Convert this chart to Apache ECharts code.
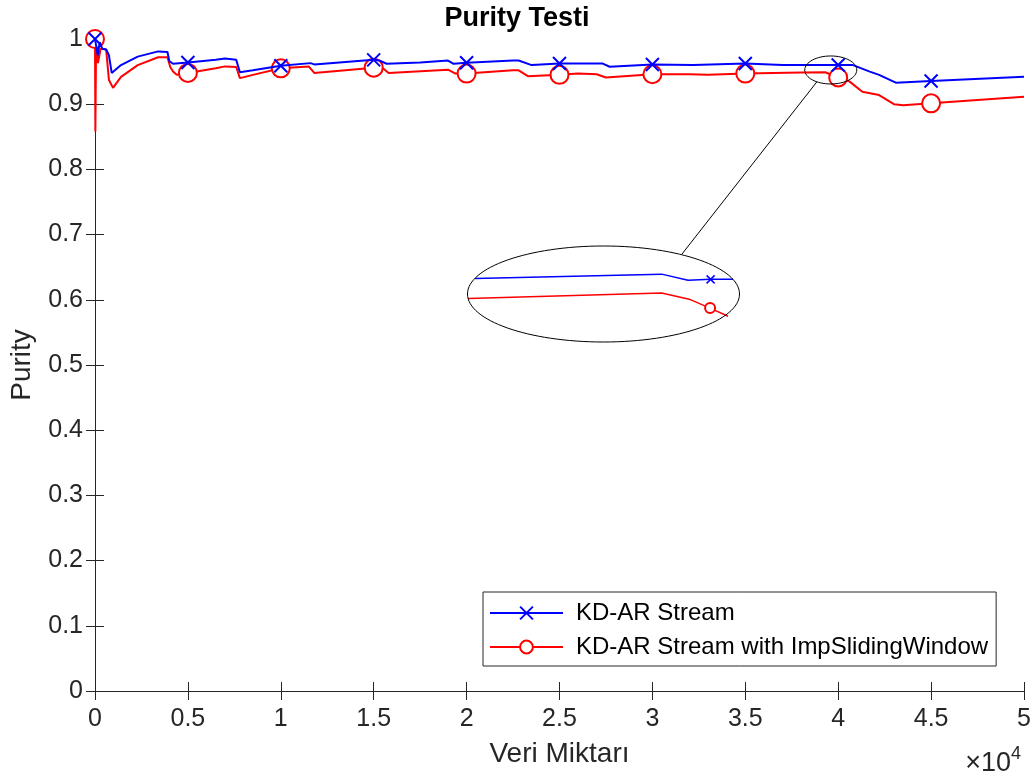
<!DOCTYPE html>
<html><head><meta charset="utf-8">
<script src="https://cdn.jsdelivr.net/npm/echarts@6/dist/echarts.min.js"></script>
<style>html,body{margin:0;padding:0;background:#fff}#c{width:1034px;height:778px}</style>
</head><body><div id="c"></div>
<script>
// ---- data ----
const xTickLabels = ['0','0.5','1','1.5','2','2.5','3','3.5','4','4.5','5'];
const yTickLabels = ['0','0.1','0.2','0.3','0.4','0.5','0.6','0.7','0.8','0.9','1'];
const markerX = [0,5000,10000,15000,20000,25000,30000,35000,40000,45000];

const blueX = [0,150,250,400,600,750,900,1400,2300,3400,3900,4000,4200,5000,6500,7000,7600,7800,8500,10000,11600,11800,15000,15300,15700,17500,19000,19300,20000,22500,22800,23500,25000,26300,27300,27700,30000,32200,35000,37000,38300,40000,40800,41700,42200,43100,45000,50000];
const blueY = [1.0,0.975,0.995,0.985,0.984,0.975,0.948,0.960,0.973,0.981,0.980,0.966,0.962,0.964,0.968,0.970,0.968,0.949,0.952,0.959,0.963,0.961,0.968,0.967,0.962,0.964,0.967,0.962,0.9635,0.967,0.967,0.960,0.9625,0.9625,0.9625,0.9575,0.961,0.960,0.9625,0.960,0.960,0.960,0.960,0.950,0.945,0.933,0.9355,0.942];

const redX = [0,20,60,160,300,600,700,750,850,970,1400,2300,3400,3900,4050,4200,4400,5000,6500,7000,7600,7800,8500,10000,11500,11800,15000,15500,15800,19000,19400,20000,22500,22800,23300,25000,26000,27000,27500,30000,32000,33000,35000,38000,39300,40000,40600,41300,42200,43000,43500,45000,50000];
const redY = [1.0,0.858,0.998,0.963,0.985,0.984,0.982,0.937,0.940,0.925,0.942,0.960,0.972,0.972,0.957,0.950,0.945,0.948,0.955,0.958,0.957,0.940,0.945,0.955,0.958,0.948,0.956,0.955,0.948,0.953,0.947,0.947,0.952,0.952,0.943,0.945,0.947,0.946,0.941,0.946,0.946,0.945,0.947,0.9485,0.949,0.941,0.935,0.919,0.914,0.900,0.8985,0.9013,0.9115];

// magnified inset (schematic), x in percent of inset width
const insetBlueX = [2.6,71.2,80.9,89.2,97.4];
const insetBlueY = [0.9583,0.9605,0.9574,0.9578,0.9579];
const insetRedX = [0,71.2,81.3,89,95.6];
const insetRedY = [0.948,0.9508,0.9476,0.943,0.9388];
const insetMarkerIdx = 3;

// ---- build ----
const AX = '#262626';
const FONT = 'Liberation Sans, Arial, Helvetica, sans-serif';
const XSYM = 'path://M0,0L10,10M10,0L0,10';

function build(xs, ys, markerTest) {
  return xs.map((x, i) => markerTest(x, i) ? { value: [x, ys[i]] } : { value: [x, ys[i]], symbol: 'none' });
}
const blueData = build(blueX, blueY, x => markerX.includes(x));
const redData = build(redX, redY, (x, i) => markerX.includes(x) && i !== 1);
const insetBlueData = build(insetBlueX, insetBlueY, (x, i) => i === insetMarkerIdx);
const insetRedData = build(insetRedX, insetRedY, (x, i) => i === insetMarkerIdx);

const chart = echarts.init(document.getElementById('c'), null, { renderer: 'canvas' });

const G = { left: 95, right: 10, top: 39, bottom: 87 };

const option = {
  backgroundColor: '#fff',
  animation: false,
  textStyle: { fontFamily: FONT },
  title: {
    text: 'Purity Testi', left: 'center', top: 0,
    textStyle: { fontFamily: FONT, fontWeight: 'bold', fontSize: 27, color: '#000' }
  },
  grid: [
    { left: G.left, right: G.right, top: G.top, bottom: G.bottom, containLabel: false },
    { left: 468, top: 246, width: 272, height: 97 }
  ],
  legend: {
    orient: 'vertical', left: 483, top: 592,
    data: ['KD-AR Stream', 'KD-AR Stream with ImpSlidingWindow'],
    backgroundColor: '#fff', borderColor: AX, borderWidth: 1,
    padding: [9, 8, 7, 6], itemGap: 10, itemWidth: 73, itemHeight: 16,
    textStyle: { fontFamily: FONT, fontSize: 24, color: '#000', padding: [0, 0, 0, 8] }
  },
  xAxis: [
    { type: 'value', gridIndex: 0, min: 0, max: 50000, interval: 5000,
      name: 'Veri Miktarı', nameLocation: 'middle', nameGap: 49,
      nameTextStyle: { fontFamily: FONT, fontSize: 28, color: AX },
      axisLine: { lineStyle: { color: AX, width: 1 } },
      axisTick: { inside: true, length: 9, lineStyle: { color: AX } },
      axisLabel: { margin: 16, fontSize: 25, color: AX, fontFamily: FONT,
        formatter: v => xTickLabels[Math.round(v / 5000)] },
      splitLine: { show: false } },
    { type: 'value', gridIndex: 0, position: 'top', min: 0, max: 50000, interval: 5000,
      axisLine: { lineStyle: { color: AX, width: 1 } },
      axisTick: { inside: true, length: 9, lineStyle: { color: AX } },
      axisLabel: { show: false }, splitLine: { show: false } },
    { type: 'value', gridIndex: 1, min: 0, max: 100, show: false }
  ],
  yAxis: [
    { type: 'value', gridIndex: 0, min: 0, max: 1, interval: 0.1,
      name: 'Purity', nameLocation: 'middle', nameGap: 59,
      nameTextStyle: { fontFamily: FONT, fontSize: 28, color: AX },
      axisLine: { show: true, lineStyle: { color: AX, width: 1 } },
      axisTick: { show: true, inside: true, length: 9, lineStyle: { color: AX } },
      axisLabel: { margin: 12, fontSize: 25, color: AX, fontFamily: FONT,
        formatter: v => yTickLabels[Math.round(v * 10)] },
      splitLine: { show: false } },
    { type: 'value', gridIndex: 0, position: 'right', min: 0, max: 1, interval: 0.1,
      axisLine: { show: true, lineStyle: { color: AX, width: 1 } },
      axisTick: { show: true, inside: true, length: 9, lineStyle: { color: AX } },
      axisLabel: { show: false }, splitLine: { show: false } },
    { type: 'value', gridIndex: 1, min: 0.925, max: 0.975, show: false }
  ],
  series: [
    { name: 'KD-AR Stream', type: 'line', xAxisIndex: 0, yAxisIndex: 0,
      data: blueData, showSymbol: true, showAllSymbol: true,
      symbol: XSYM, symbolSize: 13,
      lineStyle: { color: '#0000ff', width: 2 },
      itemStyle: { color: '#0000ff', borderColor: '#0000ff', borderWidth: 2 },
      z: 3 },
    { name: 'KD-AR Stream with ImpSlidingWindow', type: 'line', xAxisIndex: 0, yAxisIndex: 0,
      data: redData, showSymbol: true, showAllSymbol: true,
      symbol: 'emptyCircle', symbolSize: 18,
      lineStyle: { color: '#ff0000', width: 2 },
      itemStyle: { color: '#ff0000', borderColor: '#ff0000', borderWidth: 2 },
      z: 2 },
    { name: 'inset-blue', type: 'line', xAxisIndex: 2, yAxisIndex: 2,
      data: insetBlueData, showSymbol: true, showAllSymbol: true,
      symbol: XSYM, symbolSize: 8, clip: true,
      lineStyle: { color: '#0000ff', width: 1.5 },
      itemStyle: { color: '#0000ff', borderColor: '#0000ff', borderWidth: 1.5 } },
    { name: 'inset-red', type: 'line', xAxisIndex: 2, yAxisIndex: 2,
      data: insetRedData, showSymbol: true, showAllSymbol: true,
      symbol: 'emptyCircle', symbolSize: 10, clip: true,
      lineStyle: { color: '#ff0000', width: 1.5 },
      itemStyle: { color: '#ff0000', borderColor: '#ff0000', borderWidth: 1.5 } }
  ],
  graphic: []
};
chart.setOption(option);

// annotation ellipses and connector
const c1 = chart.convertToPixel({ gridIndex: 0 }, [39600, 0.9525]);
const c2 = chart.convertToPixel({ gridIndex: 1 }, [50, 0.95]);
const r1 = [26, 14], r2 = [136, 48];
chart.setOption({
  graphic: [
    { type: 'ellipse', shape: { cx: c1[0], cy: c1[1], rx: r1[0], ry: r1[1] },
      style: { fill: null, stroke: '#000', lineWidth: 1 }, z: 10 },
    { type: 'ellipse', shape: { cx: c2[0] - 0.5, cy: c2[1] - 0.5, rx: r2[0], ry: r2[1] },
      style: { fill: null, stroke: '#000', lineWidth: 1 }, z: 10 },
    { type: 'line', shape: { x1: c1[0] - 14, y1: c1[1] + 12, x2: c2[0] + 78, y2: c2[1] - 40.5 },
      style: { stroke: '#000', lineWidth: 1 }, z: 10 },
    { type: 'text', right: 13, top: 745,
      style: { text: '{a|×10}{b|4}', rich: {
        a: { fontFamily: FONT, fontSize: 27, fill: AX, verticalAlign: 'bottom' },
        b: { fontFamily: FONT, fontSize: 18, fill: AX, verticalAlign: 'top', padding: [0, 0, 14, 0] } } } }
  ]
});
</script></body></html>
